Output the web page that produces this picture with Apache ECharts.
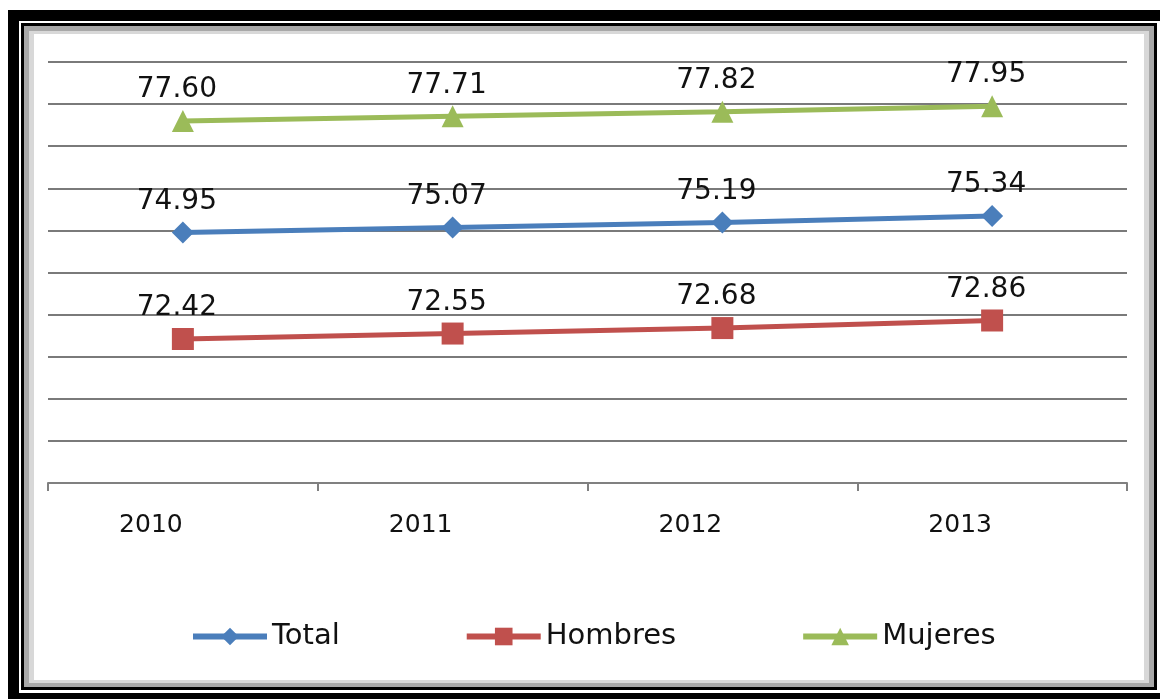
<!DOCTYPE html>
<html>
<head>
<meta charset="utf-8">
<script src="https://cdn.jsdelivr.net/npm/echarts@6/dist/echarts.min.js"></script>
<style>
html,body{margin:0;padding:0;background:#fff;}
#c{width:1160px;height:699px;}
</style>
</head>
<body>
<div id="c"></div>
<script>
const categories = ['2010', '2011', '2012', '2013'];
const totalValues = [74.95, 75.07, 75.19, 75.34];
const hombresValues = [72.42, 72.55, 72.68, 72.86];
const mujeresValues = [77.60, 77.71, 77.82, 77.95];
const seriesNames = ['Total', 'Hombres', 'Mujeres'];
const seriesColors = ['#4a7ebb', '#c0504d', '#9bbb59'];

const chart = echarts.init(document.getElementById('c'), null, {renderer: 'canvas'});

const labelStyle = {
  show: true,
  position: 'top',
  distance: 6,
  offset: [-6, 0],
  color: '#111',
  fontFamily: 'DejaVu Sans',
  fontSize: 28,
  formatter: p => p.value.toFixed(2)
};

chart.setOption({
  animation: false,
  backgroundColor: '#fff',
  graphic: [
    {type: 'rect', z: -100, silent: true, shape: {x: 8, y: 10, width: 1152, height: 689}, style: {fill: '#000'}},
    {type: 'rect', z: -99, silent: true, shape: {x: 19, y: 21, width: 1141, height: 672}, style: {fill: '#fff'}},
    {type: 'rect', z: -98, silent: true, shape: {x: 21, y: 23, width: 1136, height: 667}, style: {fill: '#000'}},
    {type: 'rect', z: -97, silent: true, shape: {x: 24, y: 26, width: 1130, height: 661}, style: {fill: '#a8a8a8'}},
    {type: 'rect', z: -96, silent: true, shape: {x: 29, y: 31, width: 1120, height: 652}, style: {fill: '#d8d8d8'}},
    {type: 'rect', z: -95, silent: true, shape: {x: 34, y: 34, width: 1110, height: 646}, style: {fill: '#fff'}}
  ],
  grid: {left: 48, right: 33, top: 62, bottom: 216, containLabel: false},
  legend: {
    left: 185,
    top: 617,
    itemWidth: 74,
    itemHeight: 22,
    itemGap: 124,
    textStyle: {fontFamily: 'DejaVu Sans', fontSize: 29, color: '#111'},
    data: seriesNames.map((n, i) => ({name: n, lineStyle: {width: 6, color: seriesColors[i]}}))
  },
  xAxis: {
    type: 'category',
    data: categories,
    boundaryGap: true,
    axisLine: {show: true, lineStyle: {color: '#808080', width: 2}},
    axisTick: {show: true, alignWithLabel: false, inside: false, length: 8, lineStyle: {color: '#808080', width: 2}},
    axisLabel: {
      margin: 30,
      color: '#111',
      fontFamily: 'DejaVu Sans',
      fontSize: 25,
      padding: [0, 64, 0, 0]
    },
    splitLine: {show: false}
  },
  yAxis: {
    type: 'value',
    min: 69,
    max: 79,
    interval: 1,
    axisLine: {show: false},
    axisTick: {show: false},
    axisLabel: {show: false},
    splitLine: {show: true, lineStyle: {color: '#7a7a7a', width: 2}}
  },
  series: [
    {
      name: seriesNames[0], type: 'line', data: totalValues,
      symbol: 'diamond', symbolSize: 22,
      lineStyle: {color: seriesColors[0], width: 5},
      itemStyle: {color: seriesColors[0]},
      label: labelStyle
    },
    {
      name: seriesNames[1], type: 'line', data: hombresValues,
      symbol: 'rect', symbolSize: 22,
      lineStyle: {color: seriesColors[1], width: 5},
      itemStyle: {color: seriesColors[1]},
      label: labelStyle
    },
    {
      name: seriesNames[2], type: 'line', data: mujeresValues,
      symbol: 'triangle', symbolSize: 22,
      lineStyle: {color: seriesColors[2], width: 5},
      itemStyle: {color: seriesColors[2]},
      label: labelStyle
    }
  ]
});
</script>
</body>
</html>
